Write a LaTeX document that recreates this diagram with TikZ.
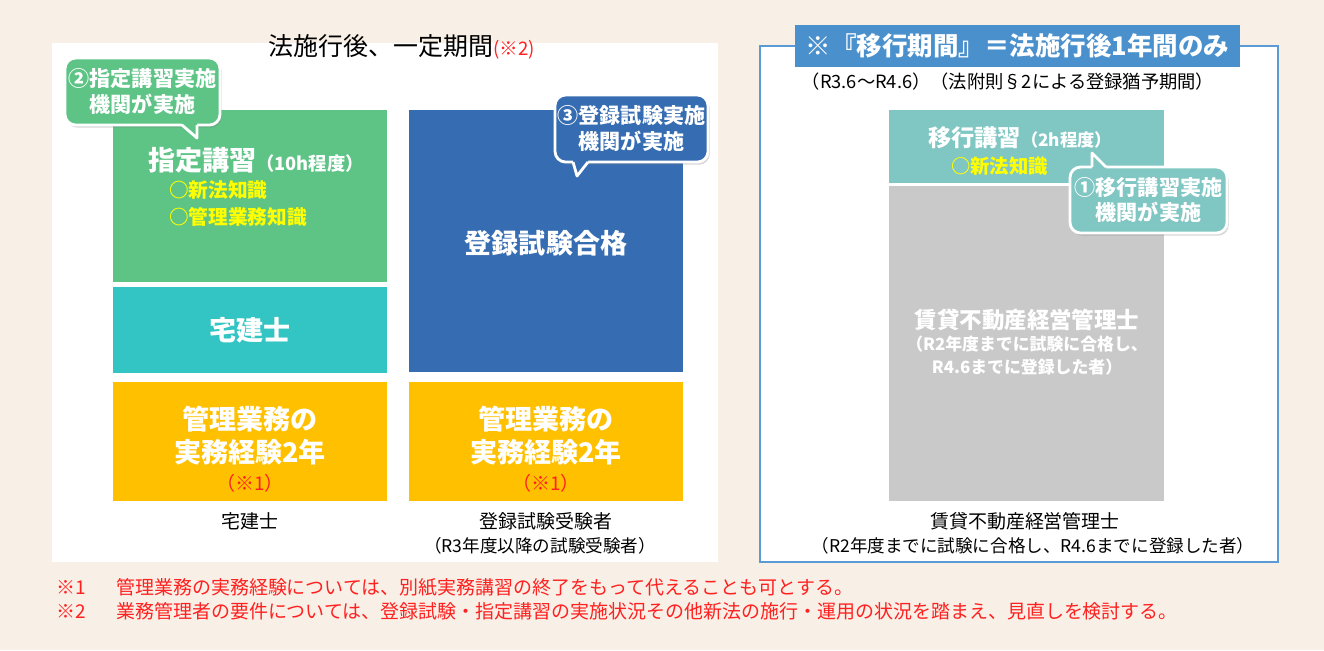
\documentclass[tikz,border=0pt]{standalone}
\usepackage{fontspec}
\setmainfont{Noto Sans CJK JP}
\usetikzlibrary{positioning,calc,shadows}

\definecolor{bgbeige}{HTML}{F8F0E6}
\definecolor{cgreen}{HTML}{5DC486}
\definecolor{cteal}{HTML}{33C4C4}
\definecolor{cyellow}{HTML}{FFC000}
\definecolor{cblue}{HTML}{366CB1}
\definecolor{cltteal}{HTML}{80C6C3}
\definecolor{cgray}{HTML}{C9C9C9}
\definecolor{panelblue}{HTML}{5B9BD5}
\definecolor{bannerblue}{HTML}{4A90CD}
\definecolor{fnred}{HTML}{FF2020}
\definecolor{yellowtxt}{HTML}{FFFF00}

\newcommand{\jsize}[2]{\fontsize{#1}{#2}\selectfont}

\begin{document}
\begin{tikzpicture}[x=0.02cm,y=-0.02cm,
  box/.style={inner sep=0pt,outer sep=0pt,minimum width=5.48cm},
  boxtext/.style={text=white,align=center,font=\bfseries\jsize{15.4}{18.8}},
  bubble/.style={rounded corners=6pt,draw=white,line width=1.6pt,text=white,align=center,
    inner sep=0pt,outer sep=0pt,minimum width=3.1cm,minimum height=1.34cm,
    font=\bfseries\jsize{12}{14.5},
    drop shadow={shadow xshift=1pt,shadow yshift=-1.5pt,opacity=.3}},
  tailedge/.style={white,line width=1.6pt,line join=round},
  note/.style={text=black,align=center,font=\jsize{10.8}{13}},
  fnote/.style={text=fnred,anchor=west,font=\jsize{10.8}{13}}]

   \fill[bgbeige] (0,0) rectangle (1324,650);
   \useasboundingbox (0,0) rectangle (1324,650);
   \fill[white] (52,43) rectangle (718,562);
   \filldraw[fill=white,draw=panelblue,line width=1.2pt] (760,46) rectangle (1278,562);

   \node[font=\jsize{14.2}{17}] (ttl) at (402,47) {法施行後、一定期間{\color{fnred}\jsize{10.6}{12}(※2)}};

   \node[box,fill=cgreen,minimum height=3.44cm] (shitei) at (250,196) {};
   \node[box,fill=cteal,minimum height=1.72cm] (takken) at (250,330) {};
   \node[box,fill=cyellow,minimum height=2.38cm] (jitsumuL) at (250,441.5) {};
   \node[box,fill=cblue,minimum height=5.24cm] (shiken) at (546,241) {};
   \node[box,fill=cyellow,minimum height=2.38cm] (jitsumuR) at (546,441.5) {};

   \node[boxtext] (shiteiT) at (256,160) {指定講習{\jsize{10.4}{12}（10h程度）}};
   \node[anchor=west,align=left,text=yellowtxt,font=\bfseries\jsize{11.2}{15.4}] (shiteiK) at (163,203.5) {○新法知識\\○管理業務知識};
   \node[boxtext] (takkenT) at (takken) {宅建士};
   \node[boxtext] (shikenT) at (546,243) {登録試験合格};
   \node[boxtext] (jitsumuLT) at (250,449) {管理業務の\\実務経験2年\\[-3pt]{\mdseries\jsize{10.8}{13}\color{fnred}（※1）}};
   \node[boxtext] (jitsumuRT) at (546,449) {管理業務の\\実務経験2年\\[-3pt]{\mdseries\jsize{10.8}{13}\color{fnred}（※1）}};

   \node[note] (lblL) at (250,521) {宅建士};
   \node[note] (lblM) at (546,521) {登録試験受験者};
   \node[note,font=\jsize{10}{12}] (lblM2) at (540,546) {（R3年度以降の試験受験者）};

   \node[fill=bannerblue,text=white,font=\bfseries\jsize{14.5}{17},inner sep=0pt,
     minimum width=8.9cm,minimum height=0.84cm] (banner) at (1017.5,46) {※『移行期間』＝法施行後1年間のみ};
   \node[note,font=\jsize{10.4}{12}] (yuyo) at (1008,82) {（R3.6～R4.6）（法附則§2による登録猶予期間）};

   \node[box,fill=cltteal,minimum width=5.5cm,minimum height=1.46cm] (ikou) at (1026.5,146.5) {};
   \node[box,fill=cgray,minimum width=5.5cm,minimum height=6.3cm] (chintai) at (1026.5,343.5) {};
   \node[text=white,font=\bfseries\jsize{13.2}{15}] (ikouT) at (1020,138) {移行講習{\jsize{9.8}{12}（2h程度）}};
   \node[anchor=west,text=yellowtxt,font=\bfseries\jsize{11}{13}] (ikouK) at (945,166) {○新法知識};
   \node[text=white,align=center,font=\bfseries\jsize{9.6}{13}] (chintaiT) at (1027,342)
     {{\jsize{12.8}{15}賃貸不動産経営管理士}\\（R2年度までに試験に合格し、\\R4.6までに登録した者）};

   \node[note] (lblR) at (1025,521) {賃貸不動産経営管理士};
   \node[note,font=\jsize{10}{12}] (lblR2) at (1033,546) {（R2年度までに試験に合格し、R4.6までに登録した者）};

   \node[bubble,fill=cgreen] (c2) at (142.5,91.5) {②指定講習実施\\機関が実施};
   \coordinate (c2tip) at (197,138);
   \fill[cgreen] ($(c2tip |- c2.south)+(-15,-4)$) -- ($(c2tip |- c2.south)+(-15,0)$) -- (c2tip) -- ($(c2tip |- c2.south)+(0,-4)$) -- cycle;
   \draw[tailedge] ($(c2tip |- c2.south)+(-15,0)$) -- (c2tip) -- (c2tip |- c2.south);

   \node[bubble,fill=cblue,minimum width=3.06cm] (c3) at (631.5,128.5) {③登録試験実施\\機関が実施};
   \coordinate (c3tip) at (577,176);
   \fill[cblue] ($(c3tip |- c3.south)+(-4,-4)$) -- ($(c3tip |- c3.south)+(-4,0)$) -- (c3tip) -- ($(c3tip |- c3.south)+(11,0)$) -- ($(c3tip |- c3.south)+(11,-4)$) -- cycle;
   \draw[tailedge] ($(c3tip |- c3.south)+(-4,0)$) -- (c3tip) -- ($(c3tip |- c3.south)+(11,0)$);

   \node[bubble,fill=cltteal,minimum width=3.14cm,minimum height=1.32cm] (c1) at (1148.5,200) {①移行講習実施\\機関が実施};
   \coordinate (c1tip) at (1092,153);
   \fill[cltteal] ($(c1tip |- c1.north)+(0,4)$) -- (c1tip |- c1.north) -- (c1tip) -- ($(c1tip |- c1.north)+(14,0)$) -- ($(c1tip |- c1.north)+(14,4)$) -- cycle;
   \draw[tailedge] (c1tip |- c1.north) -- (c1tip) -- ($(c1tip |- c1.north)+(14,0)$);

   \node[fnote] (fn1m) at (50,587) {※1};
   \node[fnote] (fn1) at (110,587) {管理業務の実務経験については、別紙実務講習の終了をもって代えることも可とする。};
   \node[fnote] (fn2m) at (50,611) {※2};
   \node[fnote] (fn2) at (110,611) {業務管理者の要件については、登録試験・指定講習の実施状況その他新法の施行・運用の状況を踏まえ、見直しを検討する。};

\end{tikzpicture}
\end{document}
